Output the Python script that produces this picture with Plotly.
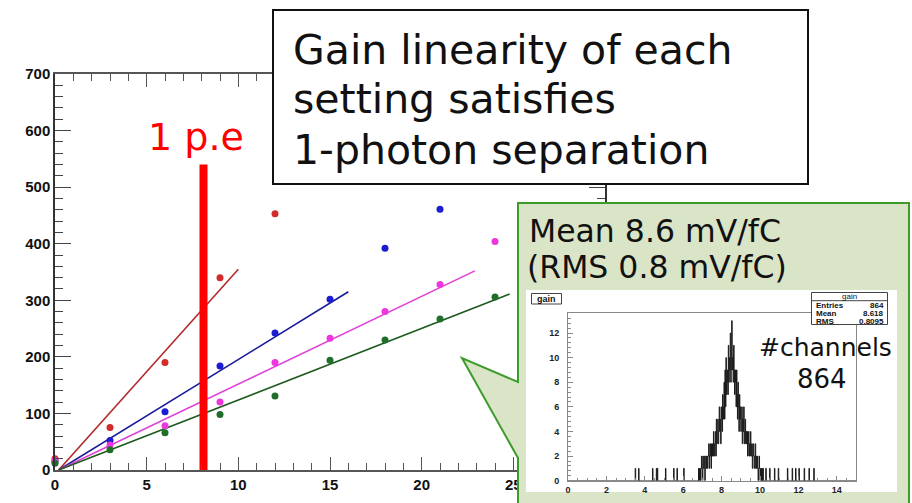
import plotly.graph_objects as go

W, H = 912, 503

# ---------------- data: gain linearity (main plot) ----------------
x_charge = [0, 3, 6, 9, 12, 15, 18, 21, 24]
red_y = [20, 75, 190, 340, 453]
blue_y = [15, 52, 103, 184, 242, 302, 392, 461]
magenta_y = [17, 44, 78, 120, 190, 233, 280, 328, 404]
green_y = [12, 36, 66, 98, 131, 194, 230, 267, 306]

red_fit_x, red_fit_y = [0.2, 10.0], [0, 355]
blue_fit_x, blue_fit_y = [0.2, 16.0], [0, 315]
magenta_fit_x, magenta_fit_y = [0.2, 22.9], [0, 352]
green_fit_x, green_fit_y = [0.2, 24.8], [0, 311]

pe_x, pe_y = [8.1, 8.1], [0, 540]

x_tick_labels = [0, 5, 10, 15, 20, 25]

# ---------------- data: gain histogram (inset) ----------------
hist_bin_width = 0.025
hist_core_start = 6.8
hist_core_counts = [
    1, 0, 1, 1, 0, 1, 2, 1, 0, 2, 1, 1, 2, 0, 1, 2, 1, 2, 1, 2,
    2, 3, 1, 2, 3, 2, 1, 3, 2, 3, 2, 4, 3, 2, 3, 4, 2, 5, 3, 4,
    5, 3, 4, 6, 4, 5, 3, 6, 5, 4, 7, 5, 6, 8, 5, 9, 6, 10, 7, 8,
    9, 7, 11, 8, 10, 9, 12, 8, 9, 13, 9, 10, 8, 11, 9, 7, 9, 8, 6, 9,
    7, 5, 8, 6, 4, 7, 5, 6, 4, 5, 6, 3, 5, 4, 6, 3, 4, 5, 3, 4,
    3, 4, 2, 3, 4, 2, 3, 2, 4, 3, 2, 3, 1, 2, 3, 2, 1, 2, 3, 1,
    2, 1, 2, 1, 0, 1, 2, 1, 0, 1, 1, 0, 1, 0, 1, 0,
]
hist_outliers = [3.52, 3.69, 4.41, 4.62, 4.66, 5.09, 5.52, 5.69, 6.04,
                 10.32, 10.5, 10.75, 10.96, 11.44, 11.7, 11.87, 12.04,
                 12.3, 12.56, 12.81]
hist_range = [0, 15]
stats = {"Entries": "864", "Mean": "8.618", "RMS": "0.8095"}

# build full binned histogram
nbins = int(round((hist_range[1] - hist_range[0]) / hist_bin_width))
counts = [0] * nbins
i0 = int(round(hist_core_start / hist_bin_width))
for k, c in enumerate(hist_core_counts):
    counts[i0 + k] += c
for v in hist_outliers:
    counts[int(v / hist_bin_width)] += 1
edges = [hist_range[0] + i * hist_bin_width for i in range(nbins + 1)]

# ---------------- layout geometry (pixels) ----------------
def px(v):
    return v / W

def py(v):
    return 1 - v / H

main_l, main_r, main_b, main_t = 55, 605, 470, 74
hist_l, hist_r, hist_b, hist_t = 568, 856, 480.7, 312.7

fig = go.Figure()

cols = {"red": "#d42a2a", "blue": "#1c1cd2", "magenta": "#ee36de", "green": "#1f6f2a"}
lcols = {"red": "#b52a2a", "blue": "#1a1a9c", "magenta": "#e040d8", "green": "#1d5a1d"}

series = [
    ("red", x_charge[:len(red_y)], red_y, red_fit_x, red_fit_y),
    ("blue", x_charge[:len(blue_y)], blue_y, blue_fit_x, blue_fit_y),
    ("magenta", x_charge[:len(magenta_y)], magenta_y, magenta_fit_x, magenta_fit_y),
    ("green", x_charge[:len(green_y)], green_y, green_fit_x, green_fit_y),
]
for name, xs, ys, fx, fy in series:
    fig.add_trace(go.Scatter(x=fx, y=fy, mode="lines",
                             line=dict(color=lcols[name], width=1.6),
                             showlegend=False, hoverinfo="skip"))
for name, xs, ys, fx, fy in series:
    fig.add_trace(go.Scatter(x=xs, y=ys, mode="markers",
                             marker=dict(color=cols[name], size=7),
                             showlegend=False, cliponaxis=False))

fig.add_trace(go.Scatter(x=pe_x, y=pe_y, mode="lines",
                         line=dict(color="#ff0000", width=8),
                         showlegend=False, hoverinfo="skip"))

# overlay subplot (pixel coordinates) for the callout decoration
fig.add_trace(go.Scatter(x=[], y=[], xaxis="x2", yaxis="y2", showlegend=False))

# histogram
fig.add_trace(go.Scatter(x=edges, y=counts + [0], mode="lines",
                         line=dict(color="#1a1a1a", width=1, shape="hv"),
                         xaxis="x3", yaxis="y3", showlegend=False))

tickfont_main = dict(family="Liberation Sans", size=15, color="#111111", weight="bold")
tickfont_hist = dict(family="Liberation Sans", size=9, color="#222222", weight="bold")

fig.update_layout(
    width=W, height=H, autosize=False,
    margin=dict(l=0, r=0, t=0, b=0, autoexpand=False),
    paper_bgcolor="white", plot_bgcolor="rgba(0,0,0,0)",
    showlegend=False,
    xaxis=dict(domain=[px(main_l), px(main_r)], range=[0, 30],
               tickmode="array", tickvals=x_tick_labels,
               showgrid=False, zeroline=False, showline=True, linecolor="#555",
               linewidth=1.5, mirror="ticks", ticks="inside", ticklen=13,
               tickcolor="#555", tickwidth=1.3,
               minor=dict(dtick=1, ticklen=7, tickcolor="#555", ticks="inside"),
               tickfont=tickfont_main, anchor="y"),
    yaxis=dict(domain=[py(main_b), py(main_t)], range=[0, 700], dtick=100,
               showgrid=False, zeroline=False, showline=True, linecolor="#333",
               linewidth=1.5, mirror="ticks", ticks="inside", ticklen=16,
               tickcolor="#444", tickwidth=1.3,
               minor=dict(dtick=20, ticklen=8, tickcolor="#444", ticks="inside"),
               tickfont=tickfont_main, anchor="x"),
    xaxis2=dict(domain=[0, 1], range=[0, W], visible=False, anchor="y2"),
    yaxis2=dict(domain=[0, 1], range=[H, 0], visible=False, anchor="x2"),
    xaxis3=dict(domain=[px(hist_l), px(hist_r)], range=hist_range, dtick=2,
                showgrid=False, zeroline=False, showline=True, linecolor="#888",
                linewidth=1, mirror=True, ticks="inside", ticklen=5,
                tickcolor="#888", minor=dict(dtick=0.5, ticklen=3, tickcolor="#888", ticks="inside"),
                tickfont=tickfont_hist, anchor="y3"),
    yaxis3=dict(domain=[py(hist_b), py(hist_t)], range=[0, 13.65], dtick=2,
                showgrid=False, zeroline=False, showline=True, linecolor="#888",
                linewidth=1, mirror=True, ticks="inside", ticklen=5,
                tickcolor="#888", minor=dict(dtick=0.4, ticklen=3, tickcolor="#888", ticks="inside"),
                tickfont=tickfont_hist, ticklabelstandoff=6, anchor="x3"),
)

shapes = [
    # callout (in overlay subplot x2y2, drawn above the main plot, below histogram)
    dict(type="path", xref="x2", yref="y2", layer="below",
         path="M518,203 L909,203 L909,512 L518,512 L518,458 L462,358 L518,382 Z",
         fillcolor="#dae4c6", line=dict(color="#3d9b2c", width=2)),
    dict(type="rect", xref="x2", yref="y2", layer="below",
         x0=526, x1=897, y0=290, y1=492, fillcolor="white", line=dict(width=0)),
    # title box
    dict(type="rect", xref="x2", yref="y2", layer="above",
         x0=273, x1=808, y0=10, y1=184, fillcolor="white",
         line=dict(color="#111", width=2)),
    # "gain" label box
    dict(type="rect", xref="x2", yref="y2", layer="above",
         x0=531.5, x1=561.5, y0=293.5, y1=304, fillcolor="white",
         line=dict(color="#444", width=1)),
    # stats box
    dict(type="rect", xref="x2", yref="y2", layer="above",
         x0=811.5, x1=887.5, y0=292.5, y1=324.5, fillcolor="white",
         line=dict(color="#444", width=1)),
    dict(type="line", xref="x2", yref="y2", layer="above",
         x0=811.5, x1=887.5, y0=300.7, y1=300.7, line=dict(color="#444", width=1)),
]
fig.update_layout(shapes=shapes)

ann = []
def T(text, x, y, size, xanchor="left", color="#111111", family="DejaVu Sans", weight="normal"):
    ann.append(dict(text=text, x=x, y=y, xref="x2", yref="y2", xanchor=xanchor,
                    yanchor="middle", showarrow=False,
                    font=dict(family=family, size=size, color=color, weight=weight)))

T("Gain linearity of each", 291, 50, 41)
T("setting satisfies", 291, 99, 41)
T("1-photon separation", 291, 150, 41)
T("1 p.e", 196, 137, 38, xanchor="center", color="#ff0000")
T("Mean 8.6 mV/fC", 527, 231, 31.5)
T("(RMS 0.8 mV/fC)", 525, 267, 31.5)
T("#channels", 757, 347, 25)
T("864", 822, 379, 26, xanchor="center")
T("gain", 546.5, 298.7, 9, xanchor="center", family="Liberation Sans", weight="bold")
T("gain", 849.5, 296.5, 8, xanchor="center", family="Liberation Sans")
for k, (lab, val) in enumerate(stats.items()):
    yy = 305 + k * 8
    T(lab, 814, yy, 8, family="Liberation Sans", weight="bold")
    T(val, 885.5, yy, 8, xanchor="right", family="Liberation Sans", weight="bold")

fig.update_layout(annotations=ann)

fig.write_html("out.html",
               post_script=("document.documentElement.style.margin='0px';"
                            "document.body.style.margin='0px';"
                            "document.body.style.padding='0px';"))
